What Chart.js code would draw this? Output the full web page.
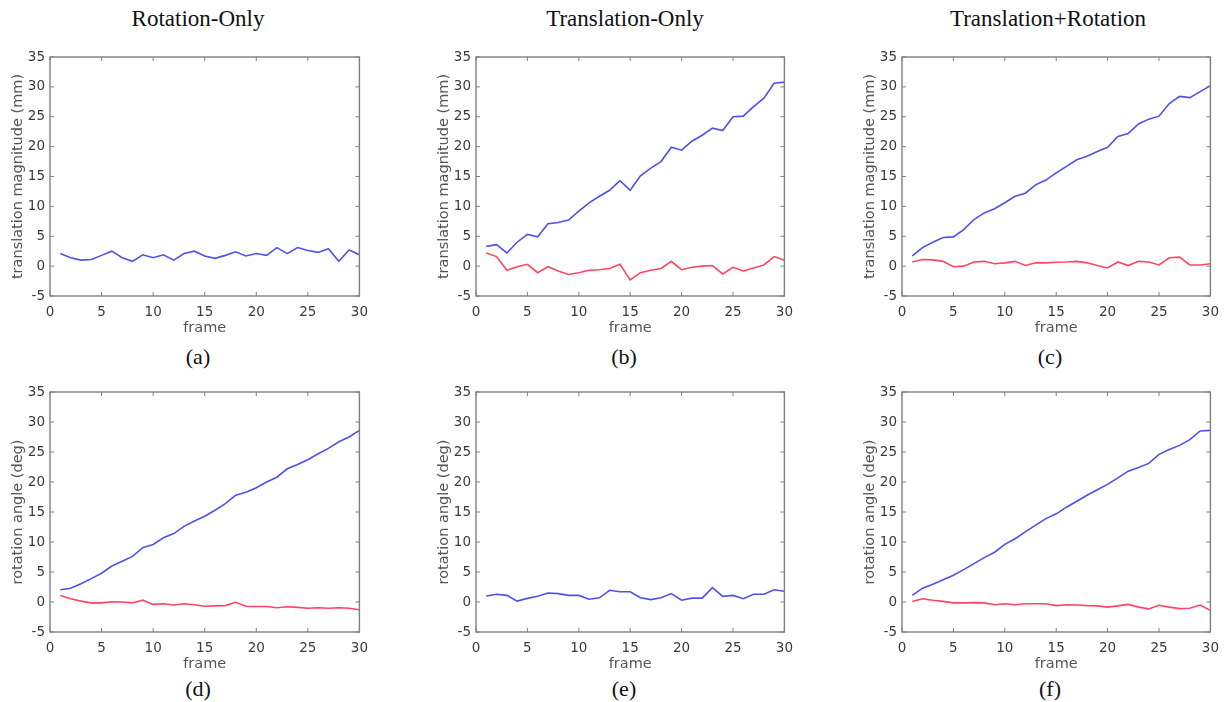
<!DOCTYPE html>
<html>
<head>
<meta charset="utf-8">
<script src="https://cdn.jsdelivr.net/npm/chart.js@4.4.0/dist/chart.umd.min.js"></script>
<style>
  html, body { margin: 0; padding: 0; background: #fff; }
  body { width: 1226px; height: 702px; position: relative; overflow: hidden; }
  canvas { position: absolute; }
  .head, .cap {
    position: absolute;
    font-family: "Liberation Serif", "Times New Roman", serif;
    color: #111;
    line-height: 1;
    white-space: nowrap;
    transform: translateX(-50%);
  }
  .head { font-size: 23px; top: 7px; }
  .cap { font-size: 22px; }
</style>
</head>
<body>

<div class="head" style="left:198px">Rotation-Only</div>
<div class="head" style="left:625px">Translation-Only</div>
<div class="head" style="left:1048px">Translation+Rotation</div>

<canvas id="chartA"></canvas>
<canvas id="chartB"></canvas>
<canvas id="chartC"></canvas>
<canvas id="chartD"></canvas>
<canvas id="chartE"></canvas>
<canvas id="chartF"></canvas>

<div class="cap" style="left:198px;top:346px">(a)</div>
<div class="cap" style="left:624px;top:346px">(b)</div>
<div class="cap" style="left:1050px;top:346px">(c)</div>
<div class="cap" style="left:198px;top:678px">(d)</div>
<div class="cap" style="left:624px;top:678px">(e)</div>
<div class="cap" style="left:1050px;top:678px">(f)</div>

<script>
// ---- DATA
const frames = [1,2,3,4,5,6,7,8,9,10,11,12,13,14,15,16,17,18,19,20,21,22,23,24,25,26,27,28,29,30];
const xTicks = [0, 5, 10, 15, 20, 25, 30];
const yTicks = [-5, 0, 5, 10, 15, 20, 25, 30, 35];

// (a) rotation-only, translation magnitude
const rotOnlyTransBlue = [2.1,1.4,1.0,1.1,1.8,2.5,1.4,0.8,1.9,1.4,1.9,1.0,2.1,2.5,1.7,1.3,1.8,2.4,1.7,2.1,1.8,3.1,2.1,3.1,2.6,2.3,2.9,0.8,2.7,1.9];

// (b) translation-only, translation magnitude
const transOnlyTransBlue = [3.3,3.6,2.2,4.0,5.3,4.9,7.1,7.3,7.7,9.2,10.6,11.7,12.7,14.3,12.7,15.1,16.4,17.5,19.9,19.4,20.9,21.9,23.1,22.7,25.0,25.1,26.7,28.1,30.6,30.8];
const transOnlyTransRed = [2.2,1.6,-0.7,-0.1,0.3,-1.1,-0.1,-0.8,-1.4,-1.1,-0.7,-0.6,-0.4,0.3,-2.3,-1.1,-0.7,-0.4,0.8,-0.6,-0.2,0.0,0.1,-1.3,-0.2,-0.8,-0.3,0.2,1.6,1.0];

// (c) translation+rotation, translation magnitude
const bothTransBlue = [1.7,3.1,4.0,4.8,4.9,6.1,7.8,8.9,9.6,10.6,11.7,12.2,13.6,14.4,15.6,16.7,17.8,18.4,19.2,19.9,21.7,22.2,23.8,24.6,25.1,27.2,28.4,28.2,29.2,30.2];
const bothTransRed = [0.7,1.1,1.05,0.8,-0.1,0.0,0.7,0.8,0.4,0.55,0.8,0.1,0.55,0.55,0.65,0.7,0.8,0.55,0.1,-0.3,0.7,0.1,0.8,0.7,0.2,1.4,1.5,0.2,0.2,0.4];

// (d) rotation-only, rotation angle
const rotOnlyRotBlue = [2.05,2.3,3.05,3.9,4.8,6.0,6.8,7.6,9.05,9.6,10.7,11.4,12.6,13.5,14.3,15.3,16.4,17.8,18.3,19.05,20.0,20.8,22.2,22.9,23.7,24.7,25.6,26.7,27.5,28.6];
const rotOnlyRotRed = [1.1,0.55,0.15,-0.15,-0.15,0.05,0.0,-0.15,0.3,-0.4,-0.3,-0.5,-0.3,-0.45,-0.7,-0.65,-0.6,-0.05,-0.7,-0.75,-0.75,-0.95,-0.8,-0.9,-1.05,-0.95,-1.05,-0.95,-1.05,-1.3];

// (e) translation-only, rotation angle
const transOnlyRotBlue = [1.0,1.3,1.1,0.15,0.6,0.95,1.5,1.4,1.1,1.1,0.45,0.7,1.95,1.7,1.7,0.7,0.4,0.7,1.4,0.3,0.65,0.65,2.4,0.95,1.1,0.55,1.3,1.3,2.05,1.8];

// (f) translation+rotation, rotation angle
const bothRotBlue = [1.1,2.3,2.95,3.7,4.45,5.4,6.4,7.4,8.3,9.6,10.55,11.7,12.8,13.9,14.7,15.8,16.8,17.8,18.7,19.6,20.7,21.8,22.4,23.1,24.6,25.4,26.1,27.05,28.5,28.6];
const bothRotRed = [0.1,0.55,0.3,0.1,-0.15,-0.15,-0.1,-0.15,-0.45,-0.3,-0.45,-0.3,-0.3,-0.3,-0.6,-0.45,-0.5,-0.6,-0.65,-0.85,-0.65,-0.4,-0.85,-1.15,-0.55,-0.85,-1.1,-1.05,-0.5,-1.4];

const BLUE = '#5050ec';
const RED = '#ff4466';

//-----FRAME + INWARD TICKS
const boxTicks = {
  id: 'boxTicks',
  afterDraw(chart) {
    const {ctx, chartArea: a, scales: {x, y}} = chart;
    ctx.save();
    ctx.strokeStyle = '#808080';
    ctx.lineWidth = 1.4;
    ctx.strokeRect(a.left, a.top, a.right - a.left, a.bottom - a.top);
    ctx.lineWidth = 1;
    ctx.beginPath();
    x.ticks.forEach(t => {
      const px = x.getPixelForValue(t.value);
      ctx.moveTo(px, a.bottom); ctx.lineTo(px, a.bottom - 4);
      ctx.moveTo(px, a.top); ctx.lineTo(px, a.top + 4);
    });
    y.ticks.forEach(t => {
      const py = y.getPixelForValue(t.value);
      ctx.moveTo(a.left, py); ctx.lineTo(a.left + 4, py);
      ctx.moveTo(a.right, py); ctx.lineTo(a.right - 4, py);
    });
    ctx.stroke();
    ctx.restore();
  }
};

function toPoints(values){
  return values.map((v, i) => ({x: frames[i], y: v}));
}

function drawPanel(id, box, yTitle, series){
  const padTop = 20, padRight = 14, yW = 60, xH = 40;
  const canvas = document.getElementById(id);
  const w = (box.r - box.l) + yW + padRight;
  const h = (box.b - box.t) + padTop + xH;
  canvas.width = w;
  canvas.height = h;
  canvas.style.left = (box.l - yW) + 'px';
  canvas.style.top = (box.t - padTop) + 'px';
  canvas.style.width = w + 'px';
  canvas.style.height = h + 'px';

  const datasets = series.map(s => ({
    data: toPoints(s.values),
    borderColor: s.color,
    borderWidth: 1.6,
    pointRadius: 0,
    fill: false,
    tension: 0
  }));

  return new Chart(canvas.getContext('2d'), {
    type: 'line',
    data: { datasets: datasets },
    plugins: [boxTicks],
    options: {
      responsive: false,
      animation: false,
      devicePixelRatio: 1,
      layout: { padding: { top: padTop, right: padRight, left: 0, bottom: 0 } },
      plugins: { legend: { display: false }, tooltip: { enabled: false } },
      scales: {
        x: {
          type: 'linear', min: 0, max: 30,
          afterBuildTicks: s => { s.ticks = xTicks.map(v => ({value: v})); },
          afterFit: s => { s.height = xH; },
          grid: { display: false, drawTicks: false },
          border: { display: false },
          ticks: { padding: 8, color: '#3a3a3a', font: { family: 'DejaVu Sans', size: 13.5 }, maxRotation: 0 },
          title: { display: true, text: 'frame', color: '#555', padding: { top: 0, bottom: -1 }, font: { family: 'DejaVu Sans', size: 14.5 } }
        },
        y: {
          type: 'linear', min: -5, max: 35,
          afterBuildTicks: s => { s.ticks = yTicks.map(v => ({value: v})); },
          afterFit: s => { s.width = yW; },
          grid: { display: false, drawTicks: false },
          border: { display: false },
          ticks: { padding: 5, color: '#3a3a3a', font: { family: 'DejaVu Sans', size: 13.5 } },
          title: { display: true, text: yTitle, color: '#555', padding: { top: 20, bottom: 0 }, font: { family: 'DejaVu Sans', size: 14.5 } }
        }
      }
    }
  });
}

const tr = 'translation magnitude (mm)';
const ro = 'rotation angle (deg)';

drawPanel('chartA', {l: 50, r: 362, t: 57, b: 296}, tr, [{values: rotOnlyTransBlue, color: BLUE}]);
drawPanel('chartB', {l: 476, r: 787, t: 57, b: 296}, tr, [{values: transOnlyTransRed, color: RED}, {values: transOnlyTransBlue, color: BLUE}]);
drawPanel('chartC', {l: 902, r: 1213, t: 57, b: 296}, tr, [{values: bothTransRed, color: RED}, {values: bothTransBlue, color: BLUE}]);
drawPanel('chartD', {l: 50, r: 362, t: 392, b: 632}, ro, [{values: rotOnlyRotRed, color: RED}, {values: rotOnlyRotBlue, color: BLUE}]);
drawPanel('chartE', {l: 476, r: 787, t: 392, b: 632}, ro, [{values: transOnlyRotBlue, color: BLUE}]);
drawPanel('chartF', {l: 902, r: 1213, t: 392, b: 632}, ro, [{values: bothRotRed, color: RED}, {values: bothRotBlue, color: BLUE}]);
</script>
</body>
</html>
